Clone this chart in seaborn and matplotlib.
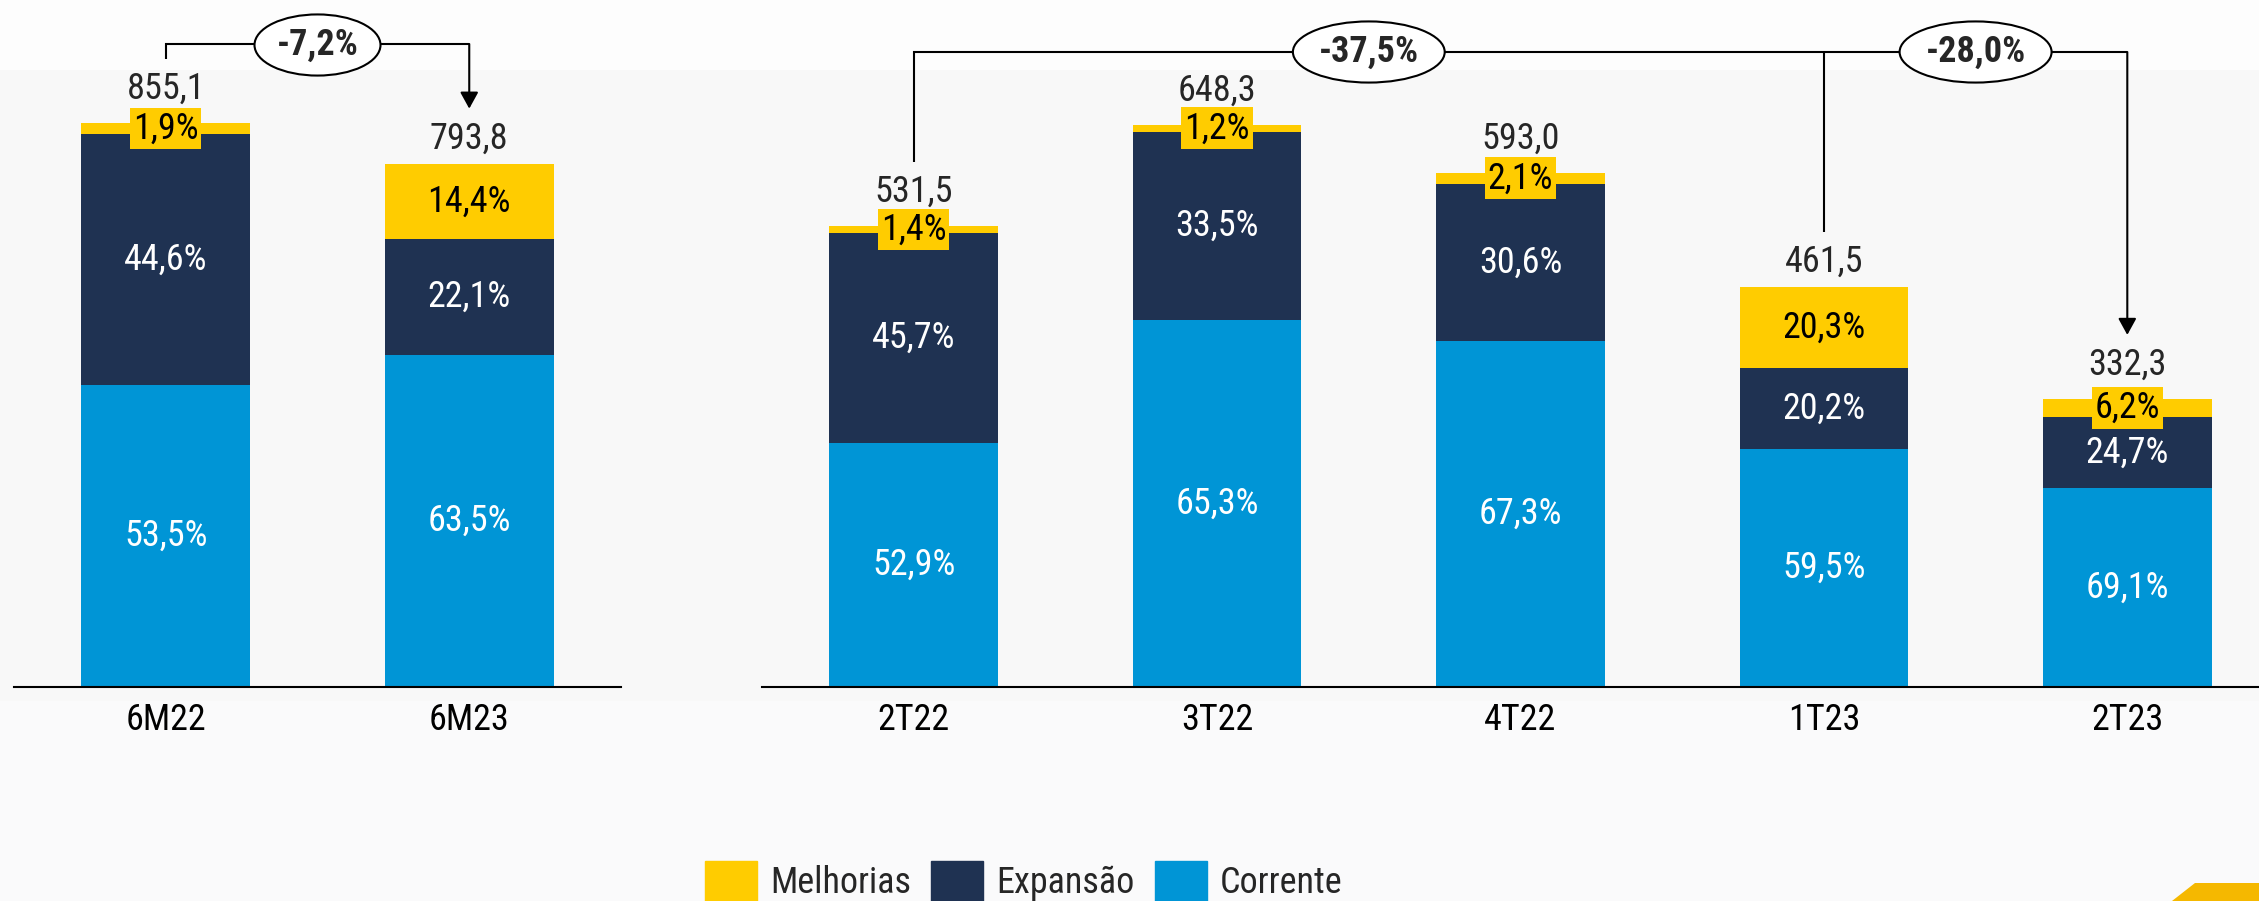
import matplotlib
matplotlib.use('Agg')
import matplotlib.pyplot as plt
from matplotlib import font_manager
from matplotlib.lines import Line2D
from matplotlib.patches import Rectangle, Polygon, Patch, FancyArrowPatch
from matplotlib.transforms import IdentityTransform
import pandas as pd
import seaborn as sns

# dados semestrais
sem_periods = ['6M22', '6M23']
sem_total = [855.1, 793.8]
sem_melhorias = [1.9, 14.4]
sem_expansao = [44.6, 22.1]
sem_corrente = [53.5, 63.5]

# dados trimestrais
tri_periods = ['2T22', '3T22', '4T22', '1T23', '2T23']
tri_total = [531.5, 648.3, 593.0, 461.5, 332.3]
tri_melhorias = [1.4, 1.2, 2.1, 20.3, 6.2]
tri_expansao = [45.7, 33.5, 30.6, 20.2, 24.7]
tri_corrente = [52.9, 65.3, 67.3, 59.5, 69.1]

legend_labels = ['Melhorias', 'Expansão', 'Corrente']
YELLOW, NAVY, BLUE = '#FFCC00', '#1F3252', '#0095D6'

sns.set_style('white')
names = {f.name for f in font_manager.fontManager.ttflist}
font = 'DejaVu Sans'
for fam in ['Liberation Sans Narrow', 'DejaVu Sans Condensed', 'Noto Sans Condensed', 'Roboto Condensed']:
    if fam in names:
        font = fam
        break
plt.rcParams['font.family'] = [font, 'DejaVu Sans']

W, H = 2259, 901
FS = 26
BAR_W = 0.556


def fmt(v, suffix=''):
    return f'{v:.1f}'.replace('.', ',') + suffix


fig = plt.figure(figsize=(W / 100, H / 100), dpi=100, facecolor='#F8F8F8')
# fundo: faixa clara no topo e embaixo, detalhe amarelo no canto
fig.patches.append(Rectangle((0, 1 - 70 / H), 1, 70 / H, transform=fig.transFigure,
                             fc='#FDFDFD', ec='none', zorder=-5))
fig.patches.append(Rectangle((0, 0), 1, 200 / H, transform=fig.transFigure,
                             fc='#FAFAFB', ec='none', zorder=-5))
fig.patches.append(Polygon([(2172 / W, 0), (2195 / W, 18 / H), (1, 18 / H), (1, 0)],
                           closed=True, transform=fig.transFigure, fc='#F5B800', ec='none', zorder=-5))

ax_l = fig.add_axes([14 / W, 1 - 687 / H, 607 / W, 687 / H])
ax_r = fig.add_axes([762 / W, 1 - 687 / H, 1517 / W, 687 / H])


def draw(ax, periods, total, melh, expa, corr, ytop):
    df = pd.DataFrame({'periodo': periods, 'total': total, 'melh': melh,
                       'expa': expa, 'corr': corr})
    df['v_corr'] = df['total'] * df['corr'] / 100
    df['v_expa'] = df['total'] * df['expa'] / 100
    df['v_melh'] = df['total'] * df['melh'] / 100
    df['v_ce'] = df['v_corr'] + df['v_expa']

    # barras sobrepostas: total (amarelo), corrente+expansao (azul escuro), corrente (azul)
    for col, c in [('total', YELLOW), ('v_ce', NAVY), ('v_corr', BLUE)]:
        sns.barplot(data=df, x='periodo', y=col, color=c, saturation=1, width=BAR_W,
                    linewidth=0, errorbar=None, ax=ax)

    ax.set_xlim(-0.5, len(periods) - 0.5)
    ax.set_ylim(0, ytop)
    ax.set_facecolor('none')
    ax.set_xlabel('')
    ax.set_ylabel('')
    ax.set_yticks([])
    ax.tick_params(axis='x', length=0, labelsize=FS, pad=11, colors='black')
    sns.despine(ax=ax, left=True)
    ax.spines['bottom'].set_color('black')
    ax.spines['bottom'].set_linewidth(1.5)

    offsets = []
    for i, r in df.iterrows():
        ax.text(i, r.v_corr / 2, fmt(r['corr'], '%'), color='white', ha='center',
                va='center', fontsize=FS)
        ax.text(i, r.v_corr + r.v_expa / 2, fmt(r['expa'], '%'), color='white',
                ha='center', va='center', fontsize=FS)
        y_m = r.v_ce + r.v_melh / 2
        if r['melh'] < 10:
            ax.text(i, y_m, fmt(r['melh'], '%'), color='black', ha='center', va='center',
                    fontsize=FS, zorder=5,
                    bbox=dict(boxstyle='square,pad=0.08', fc=YELLOW, ec='none'))
            off = 24
        else:
            ax.text(i, y_m, fmt(r['melh'], '%'), color='black', ha='center',
                    va='center', fontsize=FS)
            off = 15
        ax.annotate(fmt(r['total']), xy=(i, r['total']), xytext=(0, off * 0.72),
                    textcoords='offset points', ha='center', va='baseline', fontsize=FS)
        offsets.append(off)
    return offsets


off_l = draw(ax_l, sem_periods, sem_total, sem_melhorias, sem_expansao, sem_corrente, 687 / 0.6593)
off_r = draw(ax_r, tri_periods, tri_total, tri_melhorias, tri_expansao, tri_corrente, 687 / 0.867)


def end_point(ax, i, total, off):
    x, y = ax.transData.transform((i, total))
    return x, y + off + 27 + 13


def line(xs, ys):
    fig.add_artist(Line2D(xs, ys, color='black', lw=1.5, transform=IdentityTransform(),
                          solid_capstyle='butt', solid_joinstyle='miter'))


def arrow(x, y0, y1):
    fig.add_artist(FancyArrowPatch((x, y0), (x, y1), transform=IdentityTransform(),
                                   arrowstyle='-|>,head_length=0.4,head_width=0.22',
                                   mutation_scale=25, lw=1.5, color='black',
                                   shrinkA=0, shrinkB=0))


def bubble(x, y, txt):
    fig.text(x / W, y / H, txt, ha='center', va='center', fontsize=FS, fontweight='bold',
             zorder=6, bbox=dict(boxstyle='ellipse,pad=0.1', fc='white', ec='black', lw=1.5))


def change(a, b):
    return fmt((b / a - 1) * 100, '%')


# 6M22 -> 6M23
y_top = H - 44
xa, ya = end_point(ax_l, 0, sem_total[0], off_l[0])
xb, yb = end_point(ax_l, 1, sem_total[1], off_l[1])
line([xa, xa, xb], [ya, y_top, y_top])
arrow(xb, y_top, yb)
bubble((xa + xb) / 2, H - 45, change(sem_total[0], sem_total[1]))

# 2T22 -> 2T23 e 1T23 -> 2T23
y_top = H - 52
xa, ya = end_point(ax_r, 0, tri_total[0], off_r[0])
xc, yc = end_point(ax_r, 3, tri_total[3], off_r[3])
xb, yb = end_point(ax_r, 4, tri_total[4], off_r[4])
line([xa, xa, xb], [ya, y_top, y_top])
line([xc, xc], [yc, y_top])
arrow(xb, y_top, yb)
bubble((xa + xc) / 2, y_top, change(tri_total[0], tri_total[4]))
bubble((xc + xb) / 2, y_top, change(tri_total[3], tri_total[4]))

handles = [Patch(color=c) for c in [YELLOW, NAVY, BLUE]]
fig.legend(handles, legend_labels, loc='upper left', bbox_to_anchor=(705 / W, 1 - 861 / H),
           ncol=3, frameon=False, fontsize=FS, handlelength=52 / 36, handleheight=1.35,
           handletextpad=13 / 36, columnspacing=20 / 36, borderpad=0, borderaxespad=0)

fig.savefig('out.png', dpi=100, facecolor=fig.get_facecolor())
